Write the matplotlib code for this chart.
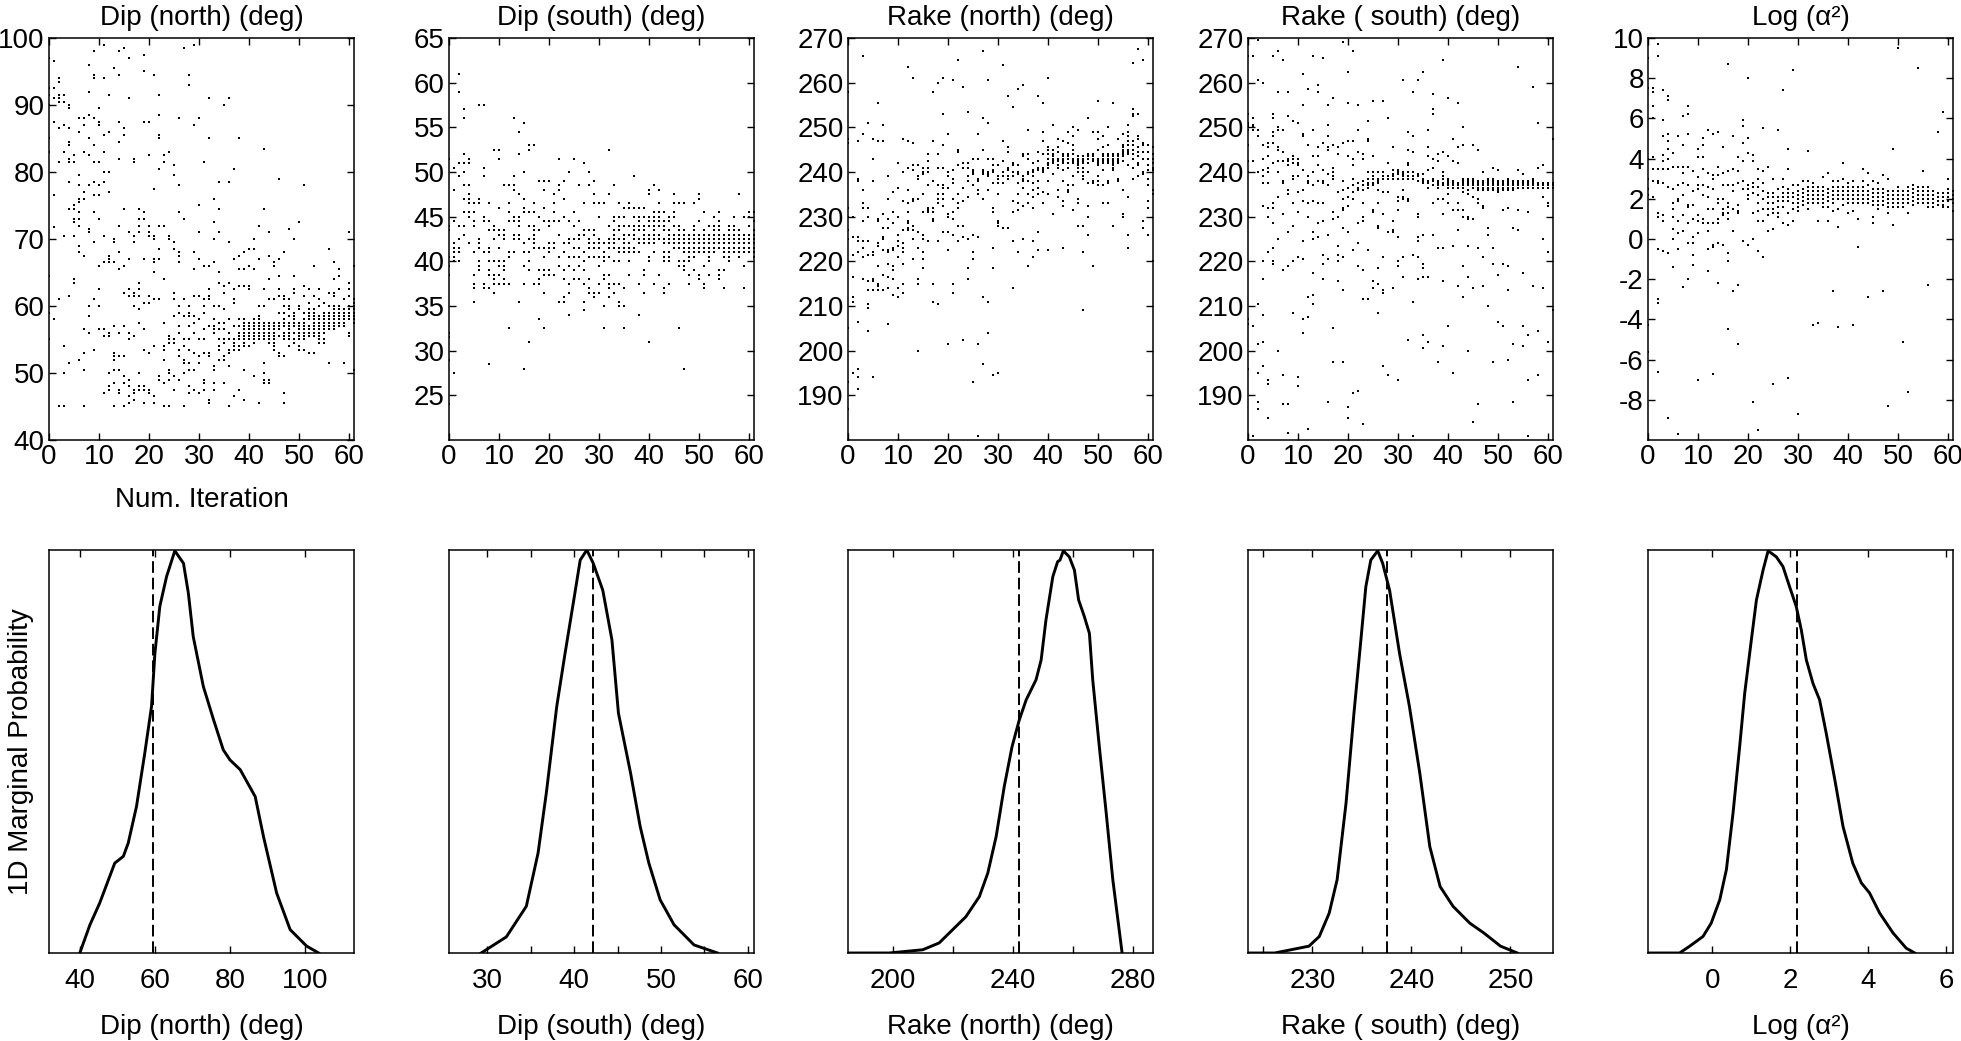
import matplotlib
matplotlib.use("Agg")
import matplotlib.pyplot as plt
import numpy as np

plt.rcParams['font.family'] = ['Liberation Sans', 'DejaVu Sans']
plt.rcParams['font.size'] = 20
plt.rcParams['axes.unicode_minus'] = False

# ---------------- scatter samples: one list of values per iteration (0..61) ----------------
dip_north = [
    [97, 92.5, 91.5, 90, 85, 83, 64.5, 59, 55],
    [96.5, 92.5, 91, 87.5, 76.5, 71.8, 58],
    [94, 93.5, 91.5, 91, 90.5, 86.5, 81.5, 61, 45],
    [91.5, 90.5, 87, 83, 70.5, 54, 50, 45],
    [90, 89.5, 86.5, 84.5, 84, 82, 81.5, 78.5, 74.5, 61.5, 51.5],
    [82.5, 81.5, 75, 74.5, 73, 72.5, 70.5, 64, 63.5],
    [88, 86, 79.5, 78, 76, 75.5, 74, 73, 72, 69, 68, 52],
    [88, 87, 83, 77, 76, 67.5, 56.5, 53, 50.5, 45],
    [96, 92, 88.5, 85, 82.5, 78, 71.5, 71, 60, 58.5, 56],
    [98, 94.5, 94, 88, 84, 81.5, 78.5, 76.5, 74, 69.5, 61, 53.5],
    [89.5, 87.5, 87, 81.5, 78, 76.5, 73, 66, 62.5, 60, 56.5],
    [99, 94, 85.5, 83, 80, 78.5, 70.5, 66.5, 56.5, 55.5, 47],
    [91.5, 86, 80, 77, 67.5, 67, 66.5, 56, 55.5, 50, 48, 47.5],
    [95.5, 70, 69.5, 66.5, 57, 53, 52.5, 52, 50.5, 48.5, 45],
    [98, 94.5, 87.5, 84.5, 82, 72, 68, 65.5, 56, 52.5, 50.5, 47.5, 47],
    [98.5, 86.5, 85.5, 74.5, 66, 62, 57, 52.5, 49.5, 48.5, 45],
    [97, 91, 71, 67, 62.5, 61.5, 56, 55, 49, 48, 46.5, 45.5],
    [82, 81.5, 70.5, 69.5, 62, 61.5, 60, 55.5, 47.5, 47, 46],
    [74.5, 73, 72, 71, 63.5, 62.5, 61.5, 59.5, 57.5, 50, 48, 47.5],
    [97.5, 95, 87.5, 74, 73, 67, 60.5, 56.5, 53.5, 48, 47.5, 45.5],
    [87.5, 82.5, 72, 71, 70.5, 61.5, 60.5, 53, 47.5, 47],
    [94.5, 77.5, 70.5, 70, 67, 66.5, 65, 61, 54, 46.5, 45.5],
    [91.5, 88.5, 85.5, 85, 80.5, 72, 68.5, 67, 61, 49.5, 49],
    [82.5, 81.5, 72, 64, 57.5, 54, 53.5, 52, 48.5, 45],
    [83, 70.5, 70, 55.5, 55, 54.5, 50.5, 50, 49, 45],
    [81, 79.5, 69.5, 68.5, 62, 61, 58.5, 55, 54.5, 49.5, 47.5],
    [88, 78, 74, 68, 67.5, 66.5, 60, 59, 57, 56, 53.5, 52.5, 49],
    [98.5, 73, 61, 58.5, 55, 54, 52, 51.5, 50, 45],
    [94.5, 93, 60, 59, 58.5, 57, 55, 53.5, 51.5, 50.5, 48, 47],
    [99, 87, 68, 65.5, 61.5, 58.5, 57.5, 56, 53, 50.5, 47.5],
    [88, 75, 71, 67, 61.5, 58, 55, 52.5, 51.5, 47],
    [81.5, 66, 61, 60, 59, 56.5, 55, 53, 49, 48.5, 47.5],
    [91, 85, 66, 62.5, 61.5, 61, 57, 53, 52.5, 46, 45.5],
    [76, 72.5, 70, 66.5, 60, 58, 57, 56.5, 56, 51, 50.5, 48.5, 47.5],
    [78.5, 74.5, 71, 65, 63.5, 60, 57.5, 56.5, 55, 54, 53.5, 52],
    [90, 63, 62, 59.5, 57.5, 56.5, 55, 54.5, 52.5, 52, 48.5],
    [91, 78.5, 69.5, 63.5, 58, 56, 55, 53.5, 53, 51, 45],
    [80.5, 67, 62.5, 61, 60.5, 57, 55, 54.5, 54, 53.5, 46.5],
    [85, 67.5, 65.5, 63, 58, 57, 56, 55.5, 55, 54, 53.5, 47.5],
    [68, 65.5, 63, 58, 57.5, 57, 56.5, 56, 55.5, 55, 54.5, 54, 50.5, 46],
    [68.5, 66, 63, 62.5, 57.5, 57, 56.5, 56, 55.5, 55, 54],
    [70, 68.5, 65.5, 58, 57.5, 57, 56.5, 56, 55.5, 55, 54.5, 49.5],
    [72, 67, 60, 58.5, 58, 57.5, 57, 56.5, 56, 55.5, 55, 45.5],
    [83.5, 74.5, 62.5, 60, 57.5, 57, 56.5, 56, 55.5, 55, 51.5, 50, 49, 48.5],
    [71, 67.5, 64, 61, 57.5, 57, 56.5, 56, 55.5, 55, 54.5, 49, 48.5],
    [66.5, 66, 61, 57.5, 57, 56.5, 56, 55.5, 55, 54.5, 54, 53.5],
    [79, 67, 64.5, 62.5, 61.5, 59, 57.5, 57, 56.5, 55.5, 53, 52.5],
    [68, 61.5, 61, 60, 59, 58, 57.5, 57, 56, 55.5, 55, 52.5, 47, 45.5],
    [71.5, 61, 60, 59.5, 58.5, 57.5, 57, 56.5, 56, 55.5, 55, 54],
    [70, 64.5, 62.5, 62, 59, 58.5, 58, 57.5, 57, 56, 55, 54.5],
    [72.5, 60, 59.5, 57.5, 57, 56.5, 56, 55.5, 55, 54, 53.5],
    [78, 63, 61.5, 59, 58, 57.5, 57, 56.5, 56, 55.5, 55, 53.5],
    [62.5, 60.5, 59.5, 59, 58.5, 58, 57, 56.5, 56, 55.5, 53],
    [66, 61.5, 59.5, 59, 58.5, 58, 57.5, 57, 56.5, 56, 55.5, 53],
    [62.5, 61, 60, 58.5, 58, 57.5, 57, 56.5, 56, 55.5, 55, 54.5],
    [60.5, 59, 58.5, 58, 57.5, 57, 56.5, 56, 55, 54.5],
    [68.5, 62, 60, 59, 58.5, 58, 57.5, 57, 56.5, 51.5],
    [66.5, 64, 62, 61.5, 60, 59.5, 59, 58.5, 58, 57.5, 57, 56.5],
    [65.5, 64.5, 62.5, 60, 59.5, 59, 58.5, 58, 57.5, 57],
    [61, 59.5, 59, 58.5, 58, 57.5, 57, 51.5],
    [71, 63.5, 62.5, 61.5, 60, 59.5, 59, 58.5, 58, 56, 55.5],
    [66, 61, 60.5, 60, 59.5, 59, 58.5, 58, 57.5, 50.5],
]

dip_south = [
    [51.5, 44, 43.5, 40.5, 39.5, 38.5, 32, 31.5, 29, 24],
    [50.5, 48, 44.5, 42, 41.5, 41, 40.5, 40, 27.5],
    [61, 59, 51, 49.5, 44, 42.5, 41.5, 41, 40],
    [57, 56, 52, 51, 50, 48.5, 47, 45.5, 44, 43],
    [51.5, 51, 48.5, 47.5, 47, 46.5, 45.5, 45, 42],
    [46.5, 45.5, 44.5, 44, 41, 38.5, 37.5, 37, 35.5],
    [57.5, 47, 46.5, 42.5, 42, 41.5, 40, 39.5, 39],
    [57.5, 50.5, 49.5, 45, 44.5, 41, 37.5, 37],
    [46.5, 44.5, 43.5, 41.5, 41, 40, 39, 38.5, 37, 28.5],
    [52.5, 44, 43.5, 42.5, 40, 38.5, 38, 37.5, 36.5],
    [52.5, 51.5, 46, 43.5, 43, 41.5, 40, 39.5, 38.5, 37.5],
    [48.5, 43.5, 43, 42.5, 40, 39.5, 39, 38, 37.5],
    [48.5, 46.5, 45.5, 44.5, 41, 40.5, 37.5, 32.5],
    [56, 49.5, 48.5, 48, 45, 44.5, 43, 42.5, 41],
    [54.5, 52, 47.5, 45, 44.5, 44, 43, 42.5, 35.5],
    [55.5, 50, 47, 46, 45.5, 42, 41, 39.5, 37.5, 28],
    [53, 52.5, 45.5, 44, 42.5, 41, 40, 39, 31],
    [53, 46.5, 45.5, 44, 43.5, 43, 42.5, 42, 41.5, 37.5],
    [49, 45, 43.5, 41.5, 39, 38, 37.5, 33.5],
    [49, 48, 46, 44.5, 41.5, 40.5, 39, 38.5, 36.5, 32.5],
    [49, 44.5, 44, 42, 41.5, 41, 39, 38.5],
    [47.5, 46.5, 45.5, 44.5, 42, 41.5, 38.5],
    [51.5, 48.5, 48, 44.5, 43, 40.5, 39.5, 35.5],
    [49, 47, 45, 42, 41, 39, 38, 36, 35.5],
    [50, 44.5, 42.5, 42, 40.5, 39.5, 37.5, 36.5, 34],
    [51.5, 45.5, 44, 42.5, 41.5, 40.5, 39, 38],
    [48.5, 44.5, 43, 42.5, 41.5, 40.5, 39.5, 38],
    [51, 46.5, 43.5, 43, 41, 40, 39, 37.5, 35.5, 34.5],
    [50, 48.5, 43.5, 42.5, 42, 41.5, 40.5, 38, 37, 36.5],
    [49, 47.5, 46.5, 43.5, 43, 42, 41.5, 40.5, 36.5, 36],
    [46.5, 45, 42.5, 42, 41.5, 40.5, 39.5, 37.5, 36.5],
    [46.5, 42, 41, 40.5, 40, 38.5, 38, 35, 32.5],
    [52.5, 47.5, 44, 42.5, 42, 41.5, 40.5, 38.5, 37.5, 37, 36],
    [48.5, 45, 44.5, 43.5, 43, 42.5, 42, 41.5, 40, 37.5, 36.5],
    [46.5, 45, 44, 43.5, 42.5, 41.5, 41, 40, 37.5, 35.5, 35],
    [46, 45, 44, 43, 42.5, 42, 41.5, 41, 37, 35, 32.5],
    [46.5, 46, 44, 43, 42, 41.5, 41, 40, 38.5],
    [49.5, 46, 45, 44, 43.5, 43, 42.5, 41.5, 41],
    [46, 45, 44.5, 44, 43.5, 42.5, 42, 41, 37.5, 34],
    [46, 45, 44, 43.5, 43, 42.5, 42, 39, 38.5, 36.5],
    [48, 47.5, 45, 44.5, 44, 43, 42.5, 42, 40.5, 40, 31],
    [48.5, 45.5, 45, 44.5, 44, 43.5, 43, 42.5, 42, 41, 37.5],
    [48, 46.5, 45.5, 45, 44.5, 44, 43, 42.5, 38.5],
    [45.5, 44.5, 44, 43.5, 42.5, 42, 41, 40.5, 40, 37, 36.5],
    [45, 44.5, 43.5, 43, 42.5, 42, 41, 40.5, 40, 37.5],
    [47.5, 46.5, 45.5, 45, 44, 43, 42.5, 42, 41.5],
    [46.5, 44, 43.5, 43, 42.5, 42, 41.5, 40, 39.5, 32.5],
    [46.5, 43.5, 43, 42.5, 42, 41.5, 41, 40, 39.5, 39, 28],
    [43, 42.5, 42, 41.5, 41, 40.5, 40, 38.5, 37.5],
    [46.5, 44, 43.5, 43, 42.5, 42, 41.5, 41, 40.5, 39],
    [47.5, 47, 44.5, 43, 42.5, 42, 41.5, 41, 38.5, 38],
    [45.5, 43.5, 43, 42.5, 42, 41.5, 41, 39.5, 37.5, 37],
    [44, 43, 42.5, 42, 41.5, 41, 40.5, 40, 38.5],
    [45, 44, 43.5, 43, 42.5, 42, 41.5, 41],
    [45.5, 44.5, 44, 43.5, 43, 42.5, 42, 41.5, 39, 38.5, 38],
    [43, 42.5, 42, 41.5, 41, 40.5, 39, 37],
    [44, 43.5, 43, 42.5, 42, 41.5, 41, 40.5, 40],
    [45, 44, 43.5, 43, 42.5, 42, 41.5, 41],
    [47.5, 43.5, 43, 42.5, 42, 41.5, 41, 40.5],
    [45, 43, 42.5, 42, 41.5, 41, 39.5, 37],
    [45.5, 45, 44, 43, 42.5, 42, 41.5, 41],
    [45.5, 44.5, 43.5, 43, 42.5, 42, 41.5, 41, 40.5],
]

rake_north = [
    [258, 247.5, 246.5, 232, 230, 227, 225, 205, 193, 187],
    [230, 225.5, 221.5, 216.5, 212, 211, 195],
    [247, 238.5, 238, 225.5, 224.5, 222, 206.5, 196, 194, 191.5],
    [266, 248.5, 236, 233, 232, 229, 224.5, 223, 221, 216],
    [251, 232, 230, 224.5, 221.5, 215.5, 213.5, 210.5, 209.5, 204.5],
    [247.5, 243, 238, 222, 221.5, 216, 215.5, 213.5, 194],
    [255.5, 247, 229.5, 229, 224, 223.5, 219, 215, 214.5, 213.5],
    [250.5, 247, 230.5, 227.5, 225.5, 225, 222.5, 217, 213.5],
    [239, 234, 229.5, 227.5, 222.5, 222, 219.5, 216.5, 214, 206],
    [235.5, 231, 228.5, 223, 222.5, 219, 218, 216, 212.5],
    [242, 236.5, 230, 226, 224.5, 223.5, 221, 214, 212],
    [247.5, 240, 233.5, 227, 224, 223, 222, 219.5, 215, 213],
    [263.5, 247, 241, 236, 233, 231, 229, 228.5, 227.5, 227],
    [261, 246.5, 241.5, 240.5, 234, 233.5, 228, 227, 225, 220.5],
    [241.5, 239, 238.5, 234, 226.5, 223, 216, 215, 200],
    [241, 240, 239.5, 235, 231, 226, 225, 222, 220.5, 218.5],
    [244, 242.5, 241, 240, 237, 232, 231.5, 231, 224.5],
    [258, 247, 238, 232, 231, 229.5, 229, 215, 211],
    [260, 244, 241, 237, 235, 234, 233, 224.5, 210.5],
    [261, 253, 246, 241, 237, 236.5, 235, 234, 232.5, 226.5],
    [248.5, 240, 239, 236.5, 230.5, 230, 226.5, 222.5, 201.5],
    [260.5, 240.5, 238.5, 237.5, 234, 231, 229.5, 226, 215, 213],
    [265, 245, 244.5, 241.5, 235, 233, 232, 228, 224.5],
    [259, 242, 241, 236.5, 233.5, 228, 225.5, 202.5],
    [253.5, 242, 241, 239, 238, 234.5, 225, 218.5, 216],
    [243, 240.5, 240, 239.5, 237, 226, 222, 220.5, 193],
    [248.5, 243, 238.5, 238, 236, 235, 225.5, 201.5, 181],
    [267, 252, 245, 240.5, 240, 239.5, 234, 212, 197],
    [260.5, 251, 243, 240, 239.5, 239, 236, 211, 204],
    [243, 241.5, 240.5, 240, 237.5, 232, 231, 223, 218.5, 194.5],
    [241.5, 239, 238.5, 237.5, 235, 229, 228.5, 228, 195],
    [264, 247, 242.5, 240, 239, 237.5, 227.5],
    [257, 245.5, 244.5, 241, 240.5, 239, 238.5, 227.5],
    [254.5, 242, 241.5, 240, 239, 233.5, 231, 224.5, 214],
    [258.5, 241.5, 240, 239.5, 237.5, 235, 233, 231.5, 222],
    [259.5, 244, 243.5, 239, 238.5, 238, 236.5, 232.5, 225],
    [249.5, 244, 243, 240, 239.5, 238, 235, 233, 219],
    [242, 240.5, 240, 239, 237.5, 236, 234.5, 232, 224.5, 221],
    [257, 244.5, 242.5, 241, 240.5, 238, 236.5, 235, 226.5, 222.5],
    [255.5, 249, 247, 244, 241, 240.5, 240, 235.5, 233],
    [261, 245.5, 245, 244, 243, 242, 241.5, 241, 238, 235, 222.5],
    [250.5, 245, 244, 243.5, 243, 242.5, 242, 239.5, 230.5],
    [247.5, 245.5, 244.5, 243, 242.5, 241.5, 241, 236, 234.5],
    [247, 244, 243.5, 243, 242.5, 242, 240.5, 238, 233.5, 232.5, 223],
    [249, 246.5, 244, 243.5, 243, 242, 241, 237, 236, 235.5],
    [250, 248, 246, 245, 244, 243, 242.5, 242, 239, 237, 231.5],
    [249.5, 243.5, 243, 242.5, 242, 241.5, 241, 240, 234, 233, 228],
    [243.5, 243, 242.5, 242, 241, 240, 239, 238.5, 228, 222, 209],
    [252, 244, 243.5, 243, 242, 240, 237.5, 232.5, 230, 226],
    [249, 244, 243.5, 243, 242.5, 238, 237.5, 219],
    [256, 249, 247.5, 245, 243, 242.5, 242, 241.5, 239, 238, 237],
    [248, 245.5, 244, 243.5, 243, 242.5, 242, 240.5, 237, 233],
    [250, 246, 244, 243.5, 243, 242.5, 242, 238, 237.5, 233],
    [255.5, 244, 243.5, 243, 242.5, 242, 241.5, 241, 240.5, 228],
    [247.5, 244, 243.5, 243, 242.5, 242, 238.5, 238],
    [248.5, 246, 245.5, 245, 244.5, 244, 243.5, 242.5, 236, 230.5, 230],
    [250.5, 249, 248, 247, 246, 245, 244.5, 244, 241.5, 234.5, 226, 223],
    [264.5, 254, 253, 252.5, 247, 246, 245, 244, 243, 241, 238.5],
    [267.5, 253, 248, 247.5, 245.5, 244.5, 243.5, 242, 241.5, 239],
    [265, 246.5, 246, 244.5, 243, 240, 239.5, 229, 227.5],
    [246, 244.5, 243, 241.5, 240.5, 238.5, 237, 233.5, 232, 226],
    [245.5, 244, 243, 242, 241, 240.5, 236, 235, 220],
]

rake_south = [
    [266, 253, 251, 250.5, 250, 249.5, 246, 242.5, 240, 230, 207, 206, 196],
    [266, 252, 250.5, 250, 249.5, 242.5, 205.5, 181],
    [269.5, 260.5, 249.5, 248, 240, 210.5, 201.5, 195, 188.5, 187],
    [260, 246, 243, 240.5, 239, 237.5, 232.5, 220, 216, 208, 202, 196.5],
    [246.5, 245.5, 243.5, 241, 240, 237.5, 232, 230, 222, 193.5, 192.5, 185],
    [266, 253, 252, 249, 248, 246.5, 242, 233, 232, 228.5, 223, 220, 219.5],
    [267, 258, 250, 249.5, 245.5, 245, 242.5, 240, 234.5, 225, 200],
    [265, 249.5, 244.5, 242.5, 238, 237.5, 230.5, 218, 194.5, 188],
    [258, 252.5, 243, 242.5, 241.5, 236, 235, 226.5, 219, 188, 181.5],
    [251.5, 243.5, 243, 242, 239, 238.5, 233, 228, 220, 208.5],
    [251, 243, 242, 241.5, 239, 235.5, 231, 221, 194, 192],
    [262, 255, 248.5, 248, 240.5, 236, 233.5, 224.5, 220.5, 207, 204],
    [258.5, 246, 239, 238, 237.5, 233, 230, 212, 207.5, 182.5],
    [266, 249.5, 243.5, 240, 237, 233.5, 226.5, 225, 217.5, 212.5, 210.5],
    [259.5, 258, 245.5, 243.5, 241.5, 238, 233, 228.5, 225.5],
    [265.5, 246.5, 240.5, 238, 237.5, 233, 229, 221.5, 219.5, 216],
    [255, 250.5, 248, 245.5, 245, 239.5, 237, 226, 220.5, 188.5],
    [256.5, 246, 241, 240, 239, 238.5, 231, 229.5, 205, 197.5],
    [245.5, 244, 235.5, 230, 223.5, 221.5, 220, 215.5],
    [269, 246.5, 238, 236, 234, 232, 231.5, 227.5, 221, 213.5, 197.5],
    [262.5, 255.5, 247, 243.5, 236.5, 234.5, 232.5, 226.5, 187.5, 185],
    [267, 247, 243, 241.5, 238.5, 237, 235.5, 234, 222.5, 190.5],
    [255, 249.5, 244.5, 237.5, 236.5, 236, 228.5, 224, 219, 191],
    [244, 243, 238, 237, 236, 233, 230, 229, 218, 211.5, 183.5],
    [251.5, 247.5, 247, 240, 238.5, 237.5, 237, 236.5, 222.5, 211.5],
    [256, 243.5, 240, 239, 238.5, 237.5, 237, 231.5, 231, 215.5, 214],
    [240, 238.5, 238, 237.5, 236, 233, 228, 227.5, 218.5, 215, 208.5],
    [256, 240, 239, 238.5, 235.5, 230.5, 221, 213.5, 213, 196.5],
    [252, 242, 239, 238.5, 235.5, 226.5, 194.5],
    [245.5, 240.5, 239.5, 239, 238.5, 229, 227, 226.5, 214],
    [240.5, 240, 239.5, 238.5, 234.5, 233.5, 231.5, 225.5, 220, 219, 193.5],
    [260.5, 240, 239.5, 239, 238.5, 236, 234.5, 234, 221, 216.5],
    [249, 245, 242, 241.5, 240, 239, 238.5, 234, 233.5, 202.5],
    [258, 248, 244.5, 240, 239, 238.5, 221.5, 211, 181],
    [260.5, 239.5, 239, 238, 230.5, 230, 225.5, 224.5, 221, 216],
    [262.5, 239.5, 238.5, 238, 237.5, 226, 219.5, 218.5, 216.5, 203.5, 200.5],
    [249.5, 245.5, 243.5, 240.5, 238, 237.5, 236.5, 216.5, 202],
    [257.5, 254, 253, 243, 241, 238.5, 238, 237, 233, 226],
    [244, 242.5, 238, 237.5, 237, 236.5, 234, 223, 197.5],
    [265, 244.5, 240, 239, 238.5, 237.5, 237, 234, 230.5, 223, 215.5, 201],
    [256.5, 243.5, 238.5, 238, 237.5, 237, 236.5, 235, 233, 205.5],
    [247.5, 242.5, 238, 237.5, 237, 236.5, 231.5, 223.5, 195],
    [255.5, 245.5, 242, 237.5, 237, 236.5, 233, 231.5, 227, 214.5],
    [250, 246, 238.5, 238, 237.5, 237, 236.5, 235.5, 231.5, 230, 219, 212],
    [238.5, 238, 237.5, 237, 236, 235, 230, 229.5, 223.5, 216.5, 200],
    [246, 238.5, 238, 237.5, 237, 236.5, 234.5, 229.5, 214, 184],
    [245, 238, 237.5, 237, 236.5, 236, 234, 233, 223, 188],
    [240, 238, 237.5, 237, 236.5, 236, 232.5, 232, 221, 214.5],
    [238.5, 238, 237.5, 237, 236.5, 236, 227.5, 226, 210],
    [241, 238.5, 238, 237.5, 237, 236.5, 236, 223, 219.5, 197.5],
    [240.5, 238, 237.5, 237, 236.5, 236, 235.5, 217, 206.5],
    [238, 237.5, 237, 236.5, 236, 231.5, 219.5, 205.5],
    [238.5, 238, 237.5, 237, 236.5, 236, 232, 219, 213.5, 198],
    [238, 237.5, 237, 236.5, 236, 227.5, 201.5, 188.5],
    [263.5, 240.5, 238, 237.5, 237, 236.5, 231.5, 227],
    [239.5, 238, 237.5, 237, 236.5, 217.5, 205.5, 201],
    [238, 237.5, 237, 236.5, 231, 203.5, 193.5, 181],
    [259, 238.5, 238, 237.5, 237, 236.5, 214.5],
    [251, 241, 237.5, 237, 236.5, 204.5, 194.5],
    [241.5, 237.5, 237, 236.5, 234.5, 225, 214],
    [237.5, 237, 236.5, 233, 232.5, 222, 202],
    [237.5, 237, 236.5, 247.5, 209],
]

log_alpha2 = [
    [9, 7.5, 4, 3, 2.5, 2.2, -4.3, -5.6],
    [7.5, 7.3, 6.6, 6, 4.1, 3.5, 2.9, 2.1],
    [9.7, 9.1, 3.5, 2.9, 2.8, 1.3, 1.1, -0.5, -3, -3.2, -6.6],
    [7.4, 5.9, 5.1, 4.2, 3.9, 3.5, 2.8, 1.2, 0.9, -0.6],
    [7.1, 6.9, 5.2, 4.9, 4.5, 4, 3.5, 2.6, -0.7, -8.9],
    [4.3, 3.6, 2.5, 1.8, 1.5, 1.1, 0.5, 0, -1.4],
    [5.1, 3.6, 2.7, 2, 1.9, 0.9, 0.3, -0.5, -9.7],
    [6.1, 4.7, 3.6, 3.3, 2.8, 2.2, 1.2, 0.4, -2.4],
    [6.6, 6.2, 5.2, 3.6, 2.7, 1.7, 1.6, 0.8, -0.2, -2],
    [3.4, 2.4, 1.7, 1, 0.1, -0.2, -0.8, -1.3],
    [4.5, 4.1, 3.1, 2.7, 2.5, 1.2, 0.9, 0.3, -7],
    [5, 4.7, 4.1, 3.5, 2.7, 2.2, 1, 0.8],
    [5.4, 3.3, 2.6, 2.1, 1.5, 0.8, 0.4, -0.5, -1.6],
    [5.2, 3.2, 3, 2.5, 1.5, 0.8, -0.3, -0.4, -6.7],
    [5.3, 3.6, 3.2, 2, 1.8, 1, 0.8, -0.2, -2.2],
    [4.6, 3.3, 2.7, 2, 1.5, 1.3, 1.2, -0.3],
    [8.7, 3.4, 2.7, 1.8, 1.6, 1.3, 1, -0.7, -1.1, -4.5],
    [5.1, 3.5, 2.7, 2.4, 1.5, 0.4, -2.6],
    [4.1, 3.4, 2.8, 1.7, 1.4, 1.3, -2.3, -5.2],
    [5.9, 5.6, 4.8, 3.9, 2.9, 2.5, -0.1],
    [8, 5, 4.3, 2.7, 2.5, 2.2, 2, -0.3],
    [4.2, 3.9, 2.8, 2.6, 2.3, 1.3, 0, -8.1],
    [3.5, 3, 2.6, 2.2, 1.8, 1.4, 0.9, -0.6, -9.5],
    [5.5, 3.4, 2.8, 2.4, 2, 1.5, 0.9, -0.9],
    [3.6, 2.3, 2.1, 1.8, 1.5, 1.2, 0.4],
    [3, 2.3, 2.1, 1.8, 1.5, 1.3, 0.5, -7.2],
    [5.4, 2.5, 2.1, 1.9, 1.6, 1.3, 1.1],
    [7.4, 3, 2.6, 2.3, 2.1, 1.9, 1.6, 0.8],
    [4.5, 3.5, 2.5, 2.3, 2.1, 1.9, 1.3, 0.7, -6.9],
    [8.4, 2.7, 2.3, 2.1, 1.8, 1.5, 0.9],
    [2.7, 2.4, 2.2, 2, 1.8, 1.6, 1.4, -8.7],
    [2.9, 2.5, 2.3, 2.1, 1.9, 1.7],
    [4.4, 2.9, 2.6, 2.4, 2.2, 2, 1.8, 1.5],
    [2.8, 2.6, 2.4, 2.2, 2, 1.8, -4.3],
    [2.6, 2.4, 2.2, 2, 1.8, 0.9, -4.2],
    [3.1, 2.6, 2.4, 2.2, 2, 1.8, 1.6],
    [3.3, 2.5, 2.3, 2.1, 1.9, 1.6, 0.9],
    [2.9, 2.6, 2.4, 2.2, 2, 1.8, 1.4, -2.6],
    [2.9, 2.6, 2.4, 2.2, 2, 1.5, 0.6, -4.4],
    [3.8, 3, 2.6, 2.4, 2.2, 2, 1.7],
    [2.8, 2.6, 2.4, 2.2, 2, 1.8, 1.3],
    [2.9, 2.6, 2.4, 2.2, 2, 1.8, 1.4, -4.3],
    [2.6, 2.4, 2.2, 2, 1.8, 1, -0.4],
    [3.5, 2.9, 2.6, 2.4, 2.2, 2, 1.8],
    [3.3, 2.7, 2.4, 2.2, 2, 1.8, -2.9],
    [2.9, 2.5, 2.3, 2.1, 1.9, 1.7, 1.1, 0.8],
    [2.8, 2.5, 2.3, 2.1, 1.9, 1.7, 1.5],
    [3.2, 2.5, 2.3, 2.1, 1.9, 1.7, -2.6],
    [3, 2.4, 2.2, 2, 1.8, 1.6, 1.3, -8.3],
    [4.5, 2.4, 2.2, 2, 1.8, 1.6, 0.7],
    [9.5, 2.6, 2.4, 2.2, 2, 1.8, 1.6],
    [2.4, 2.2, 2, 1.8, 1.6, -5.1],
    [2.6, 2.4, 2.2, 2, 1.8, 1.3, -7.6],
    [2.7, 2.5, 2.3, 2.1, 1.9, 1.7],
    [8.5, 2.6, 2.4, 2.2, 2, 1.8],
    [3.4, 2.6, 2.4, 2.2, 2, 1.8],
    [2.6, 2.4, 2.2, 2, 1.8, 1.6, -2.3],
    [2.4, 2.2, 2, 1.8, 1.6],
    [5.3, 2.3, 2.1, 1.9, 1.7],
    [6.3, 2.3, 2.1, 1.9, 1.7, 1.6],
    [3, 2.5, 2.3, 2.1, 1.9, 1.6],
    [2.4, 2.2, 2, 1.8, 1.4],
]

# ---------------- marginal densities (normalised to peak = 1) ----------------
pdf_dipn_x = [40.0, 42.7, 45.3, 49.3, 51.6, 52.9, 55.1, 57.3, 59.1, 60.0, 61.3, 63.1, 65.3, 67.6, 68.9,
              70.2, 72.9, 75.6, 78.2, 80.0, 82.7, 86.7, 88.9, 92.4, 96.0, 100.4, 103.6]
pdf_dipn_y = [0, 0.07, 0.124, 0.223, 0.24, 0.273, 0.364, 0.496, 0.612, 0.744, 0.86, 0.934, 0.998, 0.967, 0.893,
              0.785, 0.661, 0.579, 0.504, 0.479, 0.455, 0.388, 0.289, 0.149, 0.058, 0.017, 0]
pdf_dips_x = [29.3, 32.2, 34.5, 35.85, 36.8, 38.0, 38.96, 39.9, 40.7, 41.46, 42.2, 43.3, 44.35, 45.1, 46.5,
              47.6, 48.6, 49.9, 51.5, 53.8, 56.5]
pdf_dips_y = [0, 0.04, 0.116, 0.248, 0.397, 0.612, 0.744, 0.868, 0.975, 1.0, 0.967, 0.90, 0.777, 0.595, 0.446,
              0.314, 0.223, 0.132, 0.07, 0.02, 0.0]
pdf_raken_x = [185.0, 198.7, 209.9, 215.4, 224.3, 228.8, 231.6, 234.4, 237.1, 239.7, 242.1, 244.4, 247.7, 249.4,
               251.0, 253.3, 254.9, 255.7, 256.8, 258.8, 260.5, 261.9, 263.8, 265.5, 266.6, 268.8, 271.1, 273.3, 276.4]
pdf_raken_y = [0, 0, 0.008, 0.025, 0.09, 0.14, 0.198, 0.289, 0.413, 0.512, 0.578, 0.628, 0.678, 0.727,
               0.826, 0.934, 0.971, 0.975, 0.998, 0.983, 0.95, 0.876, 0.835, 0.793, 0.678, 0.512, 0.347, 0.182, 0.0]
pdf_rakes_x = [223.5, 226.2, 229.66, 230.7, 231.7, 232.5, 233.4, 234.2, 234.9, 235.4, 235.9, 236.6, 237.1, 237.8,
               238.8, 239.8, 240.85, 241.86, 242.9, 244.2, 245.9, 247.3, 249.0, 250.7]
pdf_rakes_y = [0, 0, 0.017, 0.041, 0.099, 0.182, 0.372, 0.595, 0.777, 0.909, 0.975, 0.998, 0.967, 0.90,
               0.744, 0.612, 0.446, 0.264, 0.165, 0.116, 0.074, 0.05, 0.017, 0]
pdf_loga_x = [-1.65, -0.84, -0.58, -0.24, -0.03, 0.19, 0.36, 0.53, 0.70, 0.83, 1.0, 1.13, 1.30, 1.43, 1.64, 1.81,
              1.98, 2.15, 2.28, 2.41, 2.58, 2.75, 2.92, 3.14, 3.35, 3.6, 3.82, 4.03, 4.29, 4.63, 4.97, 5.19]
pdf_loga_y = [0, 0, 0.017, 0.041, 0.074, 0.132, 0.207, 0.347, 0.512, 0.645, 0.777, 0.876, 0.95, 0.998, 0.983,
              0.959, 0.909, 0.86, 0.802, 0.727, 0.669, 0.628, 0.545, 0.43, 0.314, 0.223, 0.174, 0.149, 0.099,
              0.05, 0.012, 0]

true_values = [59.5, 42.2, 242.1, 237.5, 2.17]

titles = ['Dip (north) (deg)', 'Dip (south) (deg)', 'Rake (north) (deg)', 'Rake ( south) (deg)', 'Log (α²)']
top_ylims = [(40, 100), (20, 65), (180, 270), (180, 270), (-10, 10)]
top_yticks = [list(range(40, 101, 10)), list(range(25, 66, 5)), list(range(190, 271, 10)),
              list(range(190, 271, 10)), list(range(-8, 11, 2))]
bot_xlims = [(31.8, 113.0), (25.6, 60.7), (185.0, 286.7), (223.5, 254.3), (-1.65, 6.17)]
bot_xticks = [[40, 60, 80, 100], [30, 35, 40, 45, 50, 55, 60], [200, 220, 240, 260, 280],
              [225, 230, 235, 240, 245, 250], [0, 2, 4, 6]]
bot_xticklabels = [['40', '60', '80', '100'], ['30', '', '40', '', '50', '', '60'],
                   ['200', '', '240', '', '280'], ['', '230', '', '240', '', '250'], ['0', '2', '4', '6']]

chains = [dip_north, dip_south, rake_north, rake_south, log_alpha2]
pdfs = [(pdf_dipn_x, pdf_dipn_y), (pdf_dips_x, pdf_dips_y), (pdf_raken_x, pdf_raken_y),
        (pdf_rakes_x, pdf_rakes_y), (pdf_loga_x, pdf_loga_y)]

W, H = 1961, 1041
fig = plt.figure(figsize=(W / 100, H / 100), dpi=100)

lefts = [49, 449, 848, 1248, 1648]
aw = 305

def frac(x0, y0, w, h):
    return [x0 / W, 1 - (y0 + h) / H, w / W, h / H]

for i in range(5):
    # ---- top: chain samples ----
    ax = fig.add_axes(frac(lefts[i], 38, aw, 402))
    xs, ys = [], []
    for it, vals in enumerate(chains[i]):
        for v in vals:
            xs.append(it)
            ys.append(v)
    ax.plot(xs, ys, linestyle='none', marker='s', markersize=2.0, color='black',
            markeredgewidth=0, clip_on=True)
    ax.set_xlim(0, 61)
    ax.set_ylim(*top_ylims[i])
    ax.set_xticks(range(0, 61, 10))
    ax.set_yticks(top_yticks[i])
    ax.tick_params(direction='in', top=True, right=True, length=5, width=1.0, labelsize=20)
    ax.tick_params(axis='x', pad=3)
    ax.tick_params(axis='y', pad=3)
    ax.set_title(titles[i], fontsize=20, pad=9)
    for s in ax.spines.values():
        s.set_linewidth(1.1)
    if i == 0:
        ax.set_xlabel('Num. Iteration', fontsize=20, labelpad=12)

    # ---- bottom: marginal pdf ----
    bx = fig.add_axes(frac(lefts[i], 550, aw, 403))
    px, py = pdfs[i]
    bx.plot(px, py, color='black', linewidth=2.1, solid_joinstyle='round')
    bx.axvline(true_values[i], color='black', linewidth=1.4, linestyle=(0, (6, 2.5)))
    bx.set_xlim(*bot_xlims[i])
    bx.set_ylim(0, 1.0)
    bx.set_yticks([])
    bx.set_xticks(bot_xticks[i])
    bx.set_xticklabels(bot_xticklabels[i])
    bx.tick_params(direction='in', top=True, length=5, width=1.0, labelsize=20, pad=11)
    bx.set_xlabel(titles[i], fontsize=20, labelpad=14)
    for s in bx.spines.values():
        s.set_linewidth(1.1)
    if i == 0:
        bx.set_ylabel('1D Marginal Probability', fontsize=20, labelpad=11)

fig.savefig('out.png', dpi=100)
